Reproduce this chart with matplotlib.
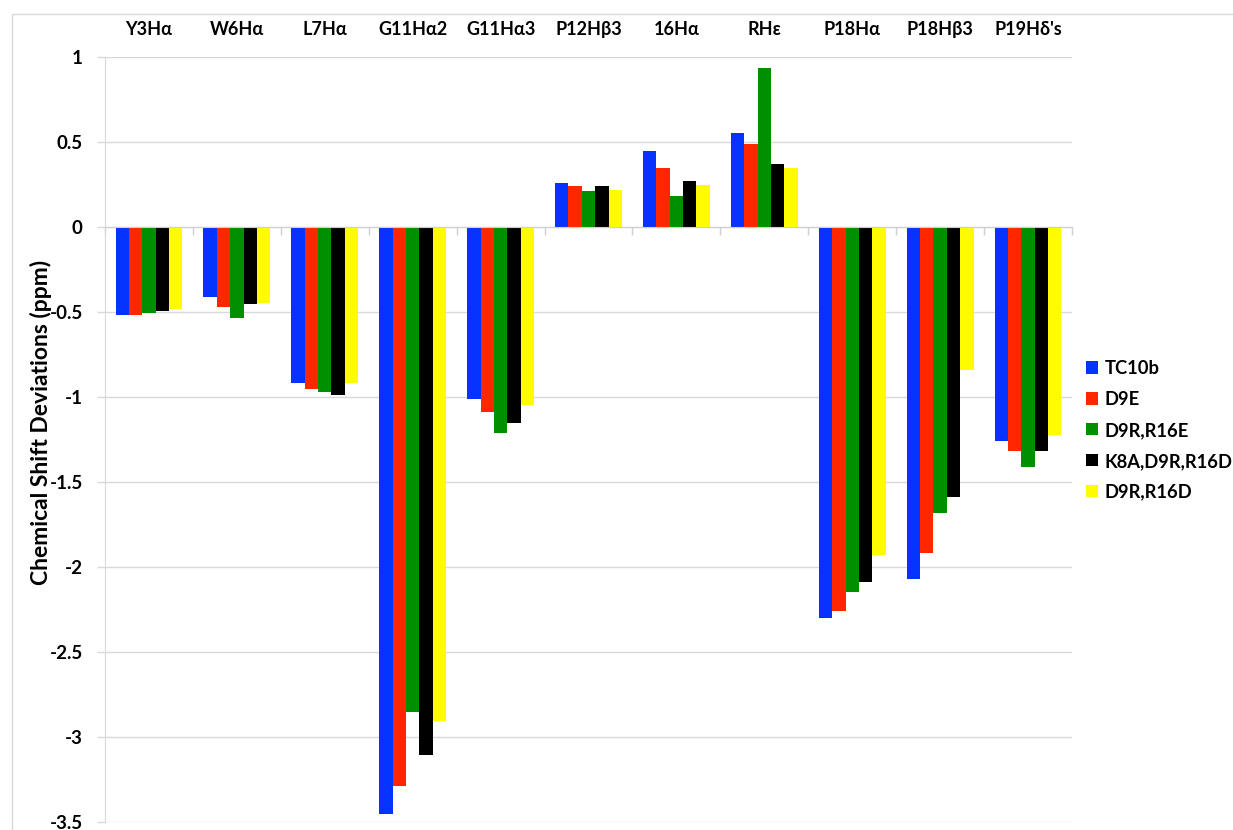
import matplotlib
matplotlib.use("Agg")
import matplotlib.pyplot as plt
import numpy as np
from matplotlib.patches import Rectangle

plt.rcParams['font.family'] = ['Lato', 'DejaVu Sans']
plt.rcParams['axes.unicode_minus'] = False

categories = ["Y3Hα", "W6Hα", "L7Hα", "G11Hα2", "G11Hα3", "P12Hβ3",
              "16Hα", "RHε", "P18Hα", "P18Hβ3", "P19Hδ's"]

series_names = ["TC10b", "D9E", "D9R,R16E", "K8A,D9R,R16D", "D9R,R16D"]

tc10b = [-0.52, -0.41, -0.92, -3.45, -1.01, 0.26, 0.445, 0.55, -2.30, -2.07, -1.26]
d9e = [-0.52, -0.47, -0.95, -3.29, -1.09, 0.24, 0.35, 0.49, -2.26, -1.915, -1.32]
d9r_r16e = [-0.505, -0.535, -0.97, -2.855, -1.21, 0.21, 0.18, 0.935, -2.145, -1.685, -1.41]
k8a_d9r_r16d = [-0.495, -0.455, -0.99, -3.105, -1.155, 0.24, 0.27, 0.37, -2.09, -1.59, -1.32]
d9r_r16d = [-0.48, -0.445, -0.92, -2.905, -1.045, 0.215, 0.245, 0.345, -1.93, -0.84, -1.225]

series_values = [tc10b, d9e, d9r_r16e, k8a_d9r_r16d, d9r_r16d]
colors = ["#0433ff", "#ff2600", "#008f00", "#000000", "#fffb00"]

y_ticks = [1, 0.5, 0, -0.5, -1, -1.5, -2, -2.5, -3, -3.5]
y_tick_labels = ["1", "0.5", "0", "-0.5", "-1", "-1.5", "-2", "-2.5", "-3", "-3.5"]

W, H = 1233, 830
fig = plt.figure(figsize=(W / 100, H / 100), dpi=100)
ax = fig.add_axes([105 / W, 1 - 822 / H, (1072 - 105) / W, (822 - 57) / H])

# chart-area frame (top and left edges visible)
fig.patches.append(Rectangle((12 / W, -0.05), 1.2, 0.983 + 0.05, transform=fig.transFigure,
                             fill=False, edgecolor="#d9d9d9", linewidth=1.0, zorder=0))

x = np.arange(len(categories))
bar_w = 0.152
offsets = (np.arange(len(series_names)) - 2) * bar_w
for vals, off, col, name in zip(series_values, offsets, colors, series_names):
    ax.bar(x + off, vals, width=bar_w, color=col, label=name, linewidth=0, zorder=3)

ax.set_xlim(-0.5, len(categories) - 0.5)
ax.set_ylim(-3.5, 1)
ax.set_yticks(y_ticks)
ax.set_yticklabels(y_tick_labels, fontsize=13.5, fontweight="bold")
ax.yaxis.grid(True, color="#d9d9d9", linewidth=1.0, zorder=0)
ax.set_axisbelow(True)
ax.tick_params(axis="y", length=6, width=1, color="#d9d9d9", pad=10)

for side in ["top", "right"]:
    ax.spines[side].set_visible(False)
ax.spines["left"].set_color("#d9d9d9")
ax.spines["bottom"].set_position(("data", 0))
ax.spines["bottom"].set_color("#d0d0d0")
ax.spines["bottom"].set_zorder(4)
ax.set_xticks(np.arange(len(categories) + 1) - 0.5)
ax.tick_params(axis="x", length=6, width=1, color="#d0d0d0", labelbottom=False, direction="out")

top = ax.secondary_xaxis("top")
top.set_xticks(x)
top.set_xticklabels(categories, fontsize=13, fontweight="bold")
top.tick_params(length=0, pad=14)
top.spines["top"].set_visible(False)

ax.set_ylabel("Chemical Shift Deviations (ppm)", fontsize=16.5, fontweight="bold")
ax.yaxis.set_label_coords(-0.055, 0.522)

ax.legend(loc="upper left", bbox_to_anchor=(1086 / W, 1 - 360 / H),
          bbox_transform=fig.transFigure, frameon=False,
          prop={"weight": "bold", "size": 13.2}, handlelength=0.64, handleheight=0.64,
          handletextpad=0.38, labelspacing=0.76, borderpad=0, borderaxespad=0)

fig.savefig("out.png", dpi=100)
